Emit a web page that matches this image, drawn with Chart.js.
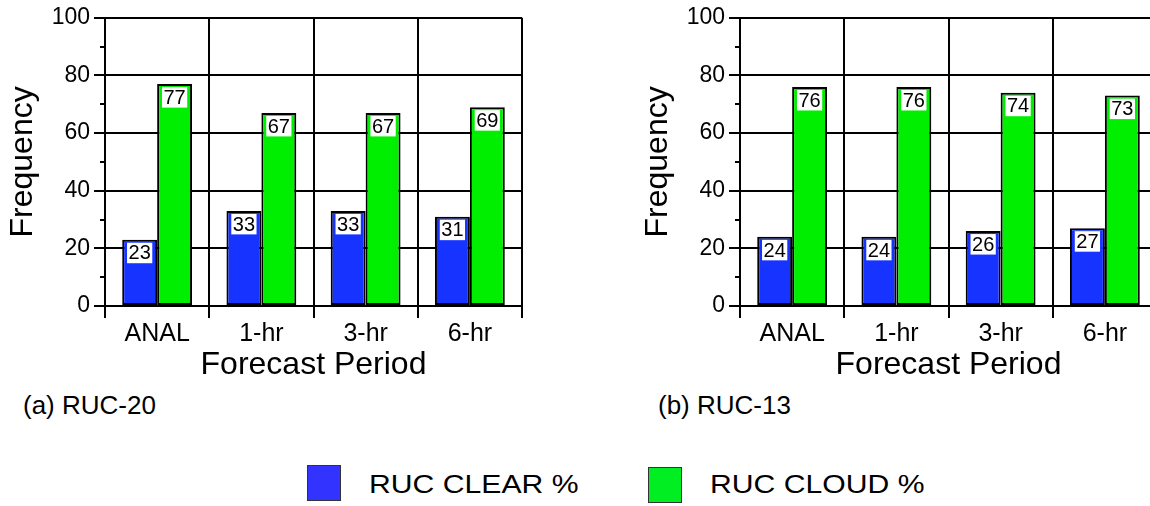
<!DOCTYPE html>
<html>
<head>
<meta charset="utf-8">
<script src="https://cdn.jsdelivr.net/npm/chart.js@4/dist/chart.umd.min.js"></script>
<style>
  html, body { margin: 0; padding: 0; width: 1150px; height: 506px; overflow: hidden; background: #fff; }
  body { position: relative; font-family: "Liberation Sans", Arial, Helvetica, sans-serif; }
  .wrap { position: absolute; top: 0; }
  .caption { position: absolute; font-size: 26px; line-height: 26px; color: #000; white-space: nowrap; }
  .sw { position: absolute; width: 34px; height: 36px; border: 1px solid #333; box-sizing: border-box; }
  .ltxt { position: absolute; font-size: 26px; line-height: 26px; white-space: nowrap; transform: scaleX(1.16); transform-origin: 0 0; color: #000; }
</style>
</head>
<body>
<div class="wrap" id="wa" style="left:0px;width:544px;height:390px;"><canvas id="ca"></canvas></div>
<div class="wrap" id="wb" style="left:635px;width:544px;height:390px;"><canvas id="cb"></canvas></div>
<div class="caption" style="left:23px;top:392px;">(a) RUC-20</div>
<div class="caption" style="left:658px;top:392px;">(b) RUC-13</div>
<div class="sw" style="left:307px;top:465px;background:#3333ff;"></div>
<div class="ltxt" style="left:369px;top:471px;">RUC CLEAR %</div>
<div class="sw" style="left:648px;top:467px;background:#00ee22;"></div>
<div class="ltxt" style="left:710px;top:471px;">RUC CLOUD %</div>
<script>
// ---- data ----
const categories = ['ANAL', '1-hr', '3-hr', '6-hr'];
const clearA = [23, 33, 33, 31];
const cloudA = [77, 67, 67, 69];
const clearB = [24, 24, 26, 27];
const cloudB = [76, 76, 74, 73];
const seriesNames = ['RUC CLEAR %', 'RUC CLOUD %'];
const yMin = 0, yMax = 100, yStep = 20;
const minorTicks = [10, 30, 50, 70, 90];

const FONT = '"Liberation Sans", Arial, Helvetica, sans-serif';
const BLUE = '#1733ff';
const GREEN = '#00ee00';

const valueLabels = {
  id: 'valueLabels',
  afterDatasetsDraw(chart) {
    const ctx = chart.ctx;
    ctx.save();
    ctx.font = '20px ' + FONT;
    ctx.textAlign = 'center';
    ctx.textBaseline = 'middle';
    chart.data.datasets.forEach((ds, i) => {
      const meta = chart.getDatasetMeta(i);
      meta.data.forEach((bar, j) => {
        const txt = String(ds.data[j]);
        const w = ctx.measureText(txt).width + 3;
        const h = 20.5;
        const top = bar.y + 3;
        ctx.fillStyle = '#fff';
        ctx.fillRect(bar.x - w / 2, top, w, h);
        ctx.fillStyle = '#000';
        ctx.fillText(txt, bar.x, top + h / 2 + 1);
      });
    });
    ctx.restore();
  }
};

const minorTickPlugin = {
  id: 'minorTicks',
  afterDraw(chart) {
    const ctx = chart.ctx;
    const ys = chart.scales.y;
    const left = chart.chartArea.left;
    ctx.save();
    ctx.strokeStyle = '#000';
    ctx.lineWidth = 2;
    minorTicks.forEach(v => {
      const y = Math.round(ys.getPixelForValue(v));
      ctx.beginPath();
      ctx.moveTo(left - 5, y);
      ctx.lineTo(left, y);
      ctx.stroke();
    });
    ctx.restore();
  }
};

function makeChart(id, clear, cloud) {
  return new Chart(document.getElementById(id), {
    type: 'bar',
    data: {
      labels: categories,
      datasets: [
        { label: seriesNames[0], data: clear, backgroundColor: BLUE, borderColor: '#000', borderWidth: 2, borderSkipped: false },
        { label: seriesNames[1], data: cloud, backgroundColor: GREEN, borderColor: '#000', borderWidth: 2, borderSkipped: false }
      ]
    },
    options: {
      responsive: true,
      maintainAspectRatio: false,
      animation: false,
      devicePixelRatio: 1,
      categoryPercentage: 0.67,
      barPercentage: 1.0,
      layout: { padding: { top: 16, right: 22, left: 0, bottom: 0 } },
      plugins: { legend: { display: false }, tooltip: { enabled: false }, title: { display: false } },
      scales: {
        x: {
          grid: { offset: true, color: '#000', lineWidth: 2, tickLength: 12, tickColor: '#000', tickWidth: 2 },
          border: { color: '#000', width: 2 },
          ticks: { color: '#000', font: { family: FONT, size: 25 }, padding: 1, maxRotation: 0 },
          title: { display: true, text: 'Forecast Period', color: '#000', font: { family: FONT, size: 32 }, padding: { top: 0, bottom: 6 } },
          afterFit(scale) { scale.height = 84; }
        },
        y: {
          min: yMin, max: yMax,
          grid: { color: '#000', lineWidth: 2, tickLength: 11, tickColor: '#000', tickWidth: 2 },
          border: { color: '#000', width: 2 },
          ticks: { stepSize: yStep, color: '#000', font: { family: FONT, size: 23 }, padding: 4 },
          title: { display: true, text: 'Frequency', color: '#000', font: { family: FONT, size: 32 }, padding: { top: 4, bottom: 0 } },
          afterFit(scale) { scale.width = 105; }
        }
      }
    },
    plugins: [valueLabels, minorTickPlugin]
  });
}

makeChart('ca', clearA, cloudA);
makeChart('cb', clearB, cloudB);
</script>
</body>
</html>
